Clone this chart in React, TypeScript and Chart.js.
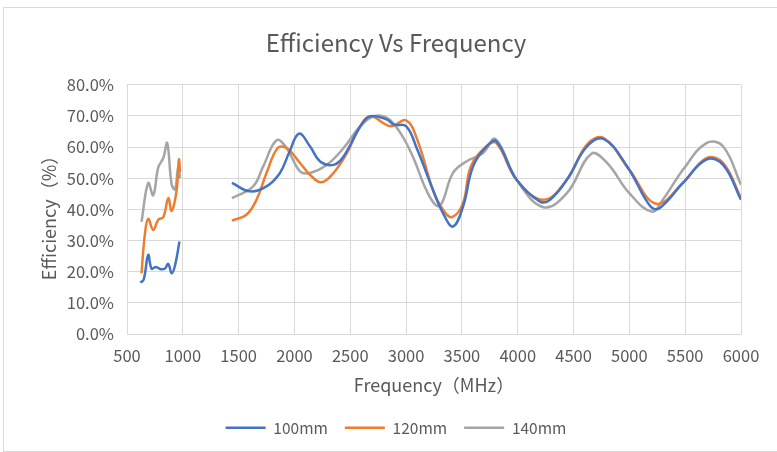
import React, { useEffect, useRef } from "react";
import { Chart, registerables } from "chart.js";

Chart.register(...registerables);

const FONT = '"Noto Sans CJK SC", "Noto Sans", sans-serif';
const TEXT = "#595959";
const GRID = "#d9d9d9";

const seriesNames = ["100mm", "120mm", "140mm"];
const seriesColors = ["#4472C4", "#ED7D31", "#A5A5A5"];

// Low band (MHz, efficiency %)
const lowFreq100 = [620, 650, 690, 720, 760, 800, 840, 870, 900, 930, 970];
const lowEff100 = [16.5, 17.5, 25.4, 21.0, 21.5, 20.8, 21.0, 22.5, 19.5, 22.0, 29.7];
const lowFreq120 = [630, 660, 690, 735, 780, 825, 870, 900, 945, 965, 975];
const lowEff120 = [19.5, 32.0, 37.0, 33.4, 36.7, 37.5, 43.6, 39.5, 46.3, 56.0, 52.0];
const lowFreq140 = [630, 690, 735, 780, 825, 860, 900, 930, 960, 975];
const lowEff140 = [36.0, 48.5, 44.5, 53.5, 56.5, 61.3, 48.0, 46.5, 53.8, 50.0];

// Main band (MHz, efficiency %)
const freq100 = [1440, 1600, 1750, 1870, 1950, 2040, 2140, 2230, 2350, 2440, 2590, 2680, 2830, 2890, 3000, 3100, 3240, 3330, 3420, 3510, 3600, 3720, 3810, 3990, 4200, 4290, 4440, 4620, 4770, 4980, 5190, 5270, 5480, 5690, 5840, 6000];
const eff100 = [48.5, 45.8, 47.4, 51.7, 58.0, 64.3, 60.2, 55.4, 54.3, 57.0, 66.7, 69.9, 68.8, 67.2, 66.7, 59.2, 46.3, 38.8, 34.5, 40.9, 53.8, 60.2, 61.8, 49.5, 42.5, 43.1, 49.5, 60.2, 62.6, 53.8, 40.9, 40.4, 48.5, 56.0, 54.3, 43.1];
const freq120 = [1440, 1570, 1660, 1750, 1850, 1930, 2050, 2140, 2240, 2350, 2470, 2590, 2680, 2860, 3000, 3100, 3240, 3330, 3410, 3510, 3580, 3720, 3810, 3990, 4230, 4440, 4620, 4770, 5000, 5240, 5480, 5690, 5840, 6000];
const eff120 = [36.4, 38.3, 43.1, 51.7, 59.7, 59.7, 54.9, 51.1, 48.7, 51.7, 58.1, 66.7, 69.9, 66.7, 68.6, 62.4, 46.3, 39.9, 37.5, 42.0, 53.8, 60.2, 61.3, 49.5, 43.1, 49.5, 60.8, 62.9, 52.7, 41.8, 48.5, 56.5, 54.9, 43.6];
const freq140 = [1440, 1630, 1720, 1840, 1930, 2050, 2140, 2290, 2440, 2590, 2710, 2830, 2950, 3060, 3180, 3270, 3320, 3420, 3540, 3690, 3800, 3990, 4230, 4440, 4660, 4800, 5000, 5200, 5300, 5480, 5690, 5840, 6000];
const eff140 = [43.6, 47.4, 53.8, 62.2, 59.7, 52.2, 51.7, 54.3, 59.7, 66.7, 69.9, 69.4, 64.5, 57.0, 46.3, 41.2, 42.0, 51.7, 55.4, 58.1, 62.6, 49.5, 40.7, 45.2, 57.9, 54.9, 45.2, 39.3, 43.1, 52.7, 61.3, 60.2, 47.9];

const gapFreq = 1200;
const xTicks = [500, 1000, 1500, 2000, 2500, 3000, 3500, 4000, 4500, 5000, 5500, 6000];
const yTicks = [0, 10, 20, 30, 40, 50, 60, 70, 80];

function build(lf: number[], le: number[], f: number[], e: number[]) {
  const pts: { x: number; y: number | null }[] = [];
  lf.forEach((x, i) => pts.push({ x, y: le[i] }));
  pts.push({ x: gapFreq, y: null });
  f.forEach((x, i) => pts.push({ x, y: e[i] }));
  return pts;
}

export default function App() {
  const ref = useRef<HTMLCanvasElement>(null);
  useEffect(() => {
    const data = [
      build(lowFreq100, lowEff100, freq100, eff100),
      build(lowFreq120, lowEff120, freq120, eff120),
      build(lowFreq140, lowEff140, freq140, eff140),
    ];
    const chart = new Chart(ref.current!, {
      type: "line",
      data: {
        datasets: data.map((d, i) => ({
          label: seriesNames[i],
          data: d,
          borderColor: seriesColors[i],
          backgroundColor: seriesColors[i],
          borderWidth: 2.5,
          pointRadius: 0,
          tension: 0.4,
          spanGaps: false,
          fill: false,
        })),
      },
      options: {
        animation: false,
        responsive: false,
        devicePixelRatio: 1,
        layout: { padding: { top: 0, left: 51, right: 36, bottom: 6.5 } },
        plugins: {
          tooltip: { enabled: false },
          title: {
            display: true,
            text: "Efficiency Vs Frequency",
            color: TEXT,
            font: { family: FONT, size: 24, weight: "normal" },
            padding: { top: 28, bottom: 28 },
          },
          legend: {
            position: "bottom",
            labels: {
              color: TEXT,
              font: { family: FONT, size: 15.5 },
              usePointStyle: true,
              pointStyle: "line",
              pointStyleWidth: 40,
              padding: 17,
            },
          },
        },
        scales: {
          x: {
            type: "linear",
            min: 500,
            max: 6000,
            afterBuildTicks: (s: any) => {
              s.ticks = xTicks.map((v) => ({ value: v }));
            },
            afterFit: (s: any) => {
              s.height = 69;
            },
            ticks: {
              color: TEXT,
              font: { family: FONT, size: 16.5 },
              padding: 12,
              maxRotation: 0,
              callback: (v: any) => String(v),
            },
            grid: { color: GRID, lineWidth: 1, drawTicks: false },
            border: { color: GRID },
            title: {
              display: true,
              text: "Frequency（MHz）",
              color: TEXT,
              font: { family: FONT, size: 18 },
              padding: { top: 0, bottom: 7 },
            },
          },
          y: {
            min: 0,
            max: 80,
            afterBuildTicks: (s: any) => {
              s.ticks = yTicks.map((v) => ({ value: v }));
            },
            afterFit: (s: any) => {
              s.width = 76;
            },
            ticks: {
              color: TEXT,
              font: { family: FONT, size: 16.5 },
              padding: 13,
              callback: (v: any) => Number(v).toFixed(1) + "%",
            },
            grid: { color: GRID, lineWidth: 1, drawTicks: false },
            border: { color: GRID },
            title: {
              display: true,
              text: "Efficiency（%）  ",
              color: TEXT,
              font: { family: FONT, size: 18 },
              padding: { top: -13, bottom: 0 },
            },
          },
        },
      },
    });
    return () => chart.destroy();
  }, []);
  return (
    <div style={{ position: "fixed", left: 0, top: 0, width: 777, height: 452, background: "#fff" }}>
      <canvas ref={ref} width={777} height={452} style={{ position: "absolute", left: 0, top: 0 }} />
      <div
        style={{
          position: "absolute",
          left: 3,
          top: 7,
          width: 800,
          height: 443,
          border: `1px solid ${GRID}`,
          pointerEvents: "none",
        }}
      />
    </div>
  );
}
